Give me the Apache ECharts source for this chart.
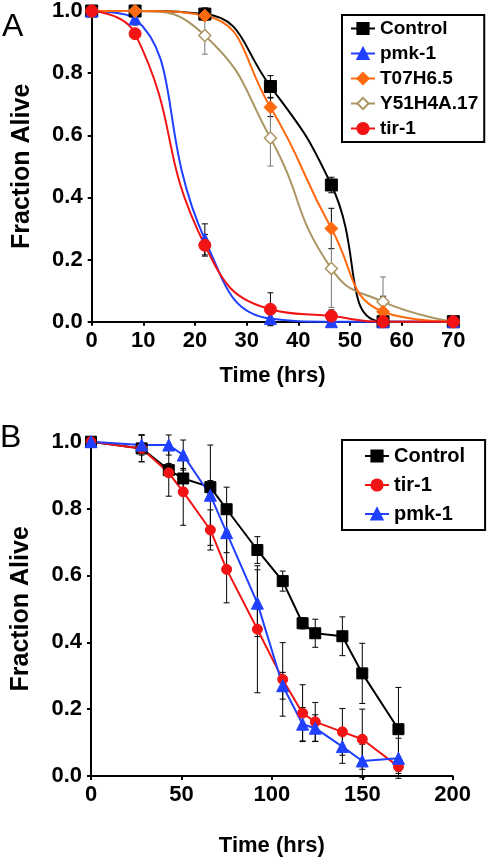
<!DOCTYPE html>
<html>
<head>
<meta charset="utf-8">
<script src="https://cdn.jsdelivr.net/npm/echarts@6/dist/echarts.min.js"></script>
<style>
html,body{margin:0;padding:0;background:#fff;}
#chart{width:487px;height:862px;}
</style>
</head>
<body>
<div id="chart"></div>
<script>
// ---------- Panel A data ----------
const timesA = [0, 8.4, 21.9, 34.6, 46.4, 56.4, 70];
const controlA = [1.0, 1.0, 0.99, 0.757, 0.44, 0.0, 0.0];
const pmk1A = [1.0, 0.975, 0.265, 0.01, 0.0, 0.0, 0.0];
const t07h65A = [1.0, 1.0, 0.985, 0.69, 0.30, 0.032, 0.0];
const y51h4a17A = [1.0, 1.0, 0.921, 0.591, 0.171, 0.064, 0.0];
const tir1A = [1.0, 0.927, 0.246, 0.04, 0.018, 0.0, 0.0];
// error (+/-)
const controlAErr = [0, 0, 0.02, 0.035, 0.025, 0, 0];
const pmk1AErr = [0, 0.02, 0.05, 0.02, 0, 0, 0];
const t07h65AErr = [0, 0, 0.01, 0.03, 0.065, 0.05, 0];
const y51h4a17AErr = [0, 0, 0.06, 0.09, 0.125, 0.08, 0];
const tir1AErr = [0, 0, 0.035, 0.053, 0.02, 0, 0];
const xTicksA = [0, 10, 20, 30, 40, 50, 60, 70];

// ---------- Panel B data ----------
const timesB = [0, 28, 43, 51, 66, 75, 92, 106, 117, 124, 139, 150, 170];
const controlB = [1.0, 0.98, 0.915, 0.89, 0.864, 0.798, 0.676, 0.583, 0.457, 0.427, 0.418, 0.307, 0.14];
const tir1B = [1.0, 0.98, 0.907, 0.85, 0.736, 0.618, 0.439, 0.289, 0.188, 0.162, 0.132, 0.11, 0.028];
const pmk1B = [1.0, 0.99, 0.99, 0.96, 0.84, 0.728, 0.517, 0.27, 0.155, 0.143, 0.088, 0.045, 0.053];
const controlBErr = [0, 0.04, 0.02, 0.03, 0.02, 0.066, 0.04, 0.03, 0.017, 0.042, 0.058, 0.09, 0.125];
const tir1BErr = [0, 0.04, 0.07, 0.1, 0.06, 0.1, 0.19, 0.11, 0.085, 0.058, 0.07, 0.09, 0.02];
const pmk1BErr = [0, 0.03, 0.03, 0.045, 0.15, 0.06, 0.1, 0.04, 0.05, 0.04, 0.05, 0.05, 0.06];
const xTicksB = [0, 50, 100, 150, 200];
const yTicks = [0, 0.2, 0.4, 0.6, 0.8, 1.0];

const FONT = '"Liberation Sans", Arial, sans-serif';
const C = {
  control: '#000000', pmk: '#2040ff', t07: '#ff6a10', y51: '#aa9664', tir: '#f21414'
};

function zip(xs, ys) { return xs.map((x, i) => [x, ys[i]]); }
function errData(xs, ys, es) {
  const out = [];
  xs.forEach((x, i) => { if (es[i] > 0) out.push([x, ys[i] - es[i], ys[i] + es[i]]); });
  return out;
}
function errSeries(xs, ys, es, color, idx) {
  return {
    type: 'custom', xAxisIndex: idx, yAxisIndex: idx, z: 1, clip: false, silent: true,
    data: errData(xs, ys, es),
    encode: { x: 0, y: [1, 2] },
    renderItem: function (params, api) {
      const x = api.value(0);
      const lo = api.coord([x, api.value(1)]);
      const hi = api.coord([x, api.value(2)]);
      const w = 3;
      const st = { stroke: color, lineWidth: 1 };
      return {
        type: 'group', children: [
          { type: 'line', shape: { x1: lo[0], y1: lo[1], x2: hi[0], y2: hi[1] }, style: st },
          { type: 'line', shape: { x1: lo[0] - w, y1: lo[1], x2: lo[0] + w, y2: lo[1] }, style: st },
          { type: 'line', shape: { x1: hi[0] - w, y1: hi[1], x2: hi[0] + w, y2: hi[1] }, style: st }
        ]
      };
    }
  };
}
function lineSeries(name, xs, ys, color, symbol, size, idx, smooth, opts) {
  const s = {
    name: name, type: 'line', xAxisIndex: idx, yAxisIndex: idx, z: 3,
    data: zip(xs, ys), smooth: smooth, clip: false,
    symbol: symbol, symbolSize: size,
    lineStyle: { color: color, width: 2 },
    itemStyle: { color: color, borderColor: color, borderWidth: 1 },
    emphasis: { disabled: true }, animation: false
  };
  return Object.assign(s, opts || {});
}

const axisLabelStyle = { color: '#000', fontSize: 22, fontWeight: 'bold', fontFamily: FONT };
function yAxis(idx) {
  return {
    type: 'value', gridIndex: idx, min: 0, max: 1, interval: 0.2,
    name: 'Fraction Alive', nameLocation: 'middle', nameGap: 57,
    nameTextStyle: { color: '#000', fontSize: 25, fontWeight: 'bold', fontFamily: FONT },
    axisLine: { show: true, lineStyle: { color: '#000', width: 2 } },
    axisTick: { show: true, length: 4, lineStyle: { color: '#000', width: 2 } },
    axisLabel: Object.assign({ margin: 9, formatter: v => v.toFixed(1) }, axisLabelStyle),
    splitLine: { show: false }
  };
}
function xAxis(idx, max, interval, gap) {
  return {
    type: 'value', gridIndex: idx, min: 0, max: max, interval: interval,
    name: 'Time (hrs)', nameLocation: 'middle', nameGap: gap,
    nameTextStyle: { color: '#000', fontSize: 22, fontWeight: 'bold', fontFamily: FONT },
    axisLine: { show: true, onZero: false, lineStyle: { color: '#000', width: 2 } },
    axisTick: { show: true, length: 4, lineStyle: { color: '#000', width: 2 } },
    axisLabel: Object.assign({ margin: 8 }, axisLabelStyle),
    splitLine: { show: false }
  };
}

const chart = echarts.init(document.getElementById('chart'), null, { renderer: 'canvas' });
const legendText = { color: '#000', fontWeight: 'bold', fontFamily: FONT };
chart.setOption({
  backgroundColor: '#fff',
  animation: false,
  grid: [
    { left: 91.7, top: 10.5, width: 361.6, height: 311.2 },
    { left: 91, top: 441.7, width: 361.7, height: 334.3 }
  ],
  xAxis: [xAxis(0, 70, 10, 43), xAxis(1, 200, 50, 59)],
  yAxis: [yAxis(0), yAxis(1)],
  legend: [
    {
      orient: 'vertical', left: 342, top: 15, padding: [4, 6, 4, 8], itemGap: 6,
      itemWidth: 24, itemHeight: 14,
      borderColor: '#000', borderWidth: 2,
      textStyle: Object.assign({ fontSize: 19 }, legendText),
      data: ['Control', 'pmk-1', 'T07H6.5', 'Y51H4A.17', 'tir-1']
    },
    {
      orient: 'vertical', left: 342, top: 440, padding: [6, 20, 6, 22], itemGap: 9,
      itemWidth: 24, itemHeight: 14,
      borderColor: '#000', borderWidth: 2,
      textStyle: Object.assign({ fontSize: 20 }, legendText),
      data: ['Control', 'tir-1', 'pmk-1']
    }
  ],
  graphic: [
    { type: 'text', left: 2, top: 11, style: { text: 'A', fontSize: 32, fontFamily: FONT, fill: '#000' } },
    { type: 'text', left: 0, top: 422, style: { text: 'B', fontSize: 32, fontFamily: FONT, fill: '#000' } }
  ],
  series: [
    // Panel A error bars
    errSeries(timesA, controlA, controlAErr, '#000', 0),
    errSeries(timesA, pmk1A, pmk1AErr, '#000', 0),
    errSeries(timesA, t07h65A, t07h65AErr, '#000', 0),
    errSeries(timesA, y51h4a17A, y51h4a17AErr, '#777', 0),
    errSeries(timesA, tir1A, tir1AErr, '#000', 0),
    // Panel A curves
    lineSeries('Control', timesA, controlA, C.control, 'rect', 12, 0, true),
    lineSeries('pmk-1', timesA, pmk1A, C.pmk, 'triangle', 12, 0, true),
    lineSeries('Y51H4A.17', timesA, y51h4a17A, C.y51, 'diamond', 12, 0, true,
      { itemStyle: { color: '#fff', borderColor: C.y51, borderWidth: 1.5 } }),
    lineSeries('T07H6.5', timesA, t07h65A, C.t07, 'diamond', 13, 0, true),
    lineSeries('tir-1', timesA, tir1A, C.tir, 'circle', 12, 0, true),
    // Panel B error bars
    errSeries(timesB, controlB, controlBErr, '#000', 1),
    errSeries(timesB, tir1B, tir1BErr, '#000', 1),
    errSeries(timesB, pmk1B, pmk1BErr, '#000', 1),
    // Panel B lines
    lineSeries('Control', timesB, controlB, C.control, 'rect', 11, 1, false),
    lineSeries('tir-1', timesB, tir1B, C.tir, 'circle', 10, 1, false),
    lineSeries('pmk-1', timesB, pmk1B, C.pmk, 'triangle', 12, 1, false)
  ]
});
</script>
</body>
</html>
